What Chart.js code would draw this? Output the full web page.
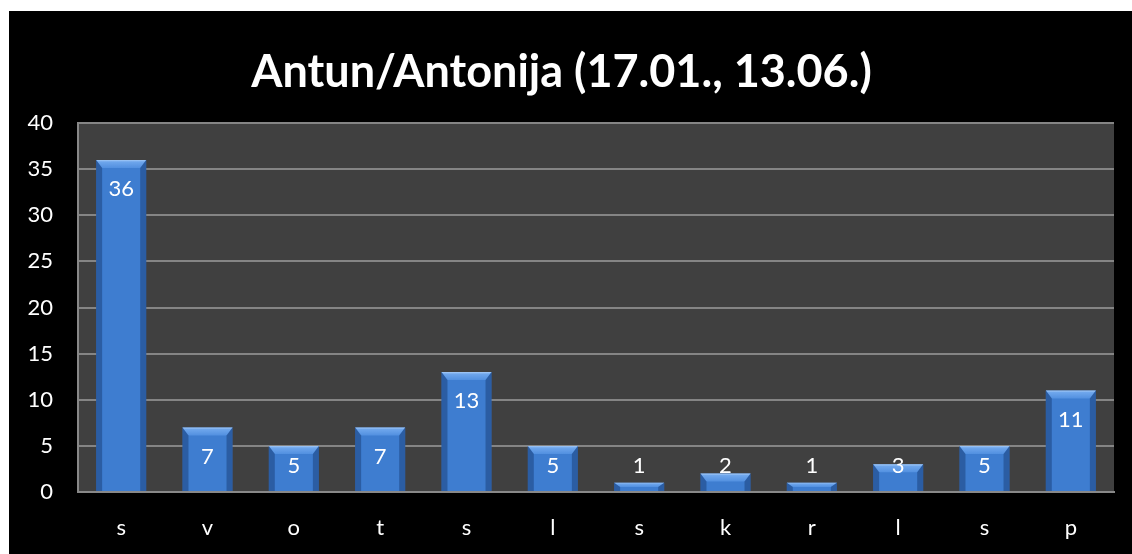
<!DOCTYPE html>
<html>
<head>
<meta charset="utf-8">
<script src="https://cdn.jsdelivr.net/npm/chart.js@4.4.1/dist/chart.umd.min.js"></script>
<style>
  html, body { margin: 0; padding: 0; background: #fff; }
  #wrap { position: absolute; left: 9px; top: 11px; width: 1123px; height: 543px; background: #000; }
</style>
</head>
<body>
<div id="wrap"><canvas id="myChart" width="1123" height="543"></canvas></div>
<script>
const chartTitle = 'Antun/Antonija (17.01., 13.06.)';
const labels = ['s', 'v', 'o', 't', 's', 'l', 's', 'k', 'r', 'l', 's', 'p'];
const counts = [36, 7, 5, 7, 13, 5, 1, 2, 1, 3, 5, 11];

// plot area background + bevel on the bars + value labels
const deco = {
    id: 'deco',
    beforeDraw(chart) {
        const a = chart.chartArea, c = chart.ctx;
        c.save();
        c.fillStyle = '#404040';
        c.fillRect(a.left, a.top, a.right - a.left, a.bottom - a.top);
        c.restore();
    },
    afterDatasetsDraw(chart) {
        const c = chart.ctx;
        const meta = chart.getDatasetMeta(0);
        c.save();
        meta.data.forEach((bar, i) => {
            const l = bar.x - bar.width / 2, r = bar.x + bar.width / 2;
            const t = bar.y, b = bar.base;
            const h = b - t;
            const bv = Math.min(8, h / 2);
            // top bevel
            const g = c.createLinearGradient(0, t, 0, t + bv);
            g.addColorStop(0, '#a6cbf7');
            g.addColorStop(0.25, '#6ea6ec');
            g.addColorStop(1, '#5290e0');
            c.fillStyle = g;
            c.beginPath();
            c.moveTo(l, t); c.lineTo(r, t); c.lineTo(r - 6, t + bv); c.lineTo(l + 6, t + bv); c.closePath();
            c.fill();
            // sides
            c.fillStyle = 'rgba(15,45,95,0.4)';
            c.beginPath();
            c.moveTo(l, t); c.lineTo(l + 6, t + bv); c.lineTo(l + 6, b); c.lineTo(l, b); c.closePath();
            c.fill();
            c.beginPath();
            c.moveTo(r, t); c.lineTo(r - 6, t + bv); c.lineTo(r - 6, b); c.lineTo(r, b); c.closePath();
            c.fill();
            // value label
            c.fillStyle = '#ffffff';
            c.font = '22px Lato';
            c.textAlign = 'center';
            c.textBaseline = 'middle';
            const y = Math.min(t + 29, b - 25);
            c.fillText(String(counts[i]), bar.x, y);
        });
        c.restore();
    }
};

const ctx = document.getElementById('myChart').getContext('2d');
const myChart = new Chart(ctx, {
    type: 'bar',
    data: {
        labels: labels,
        datasets: [{
            data: counts,
            backgroundColor: '#3e7dd0',
            borderWidth: 0,
            categoryPercentage: 1,
            barPercentage: 0.58
        }]
    },
    plugins: [deco],
    options: {
        responsive: false,
        animation: false,
        layout: { padding: { left: 0, right: 18, top: 0, bottom: 0 } },
        plugins: {
            legend: { display: false },
            tooltip: { enabled: false },
            title: {
                display: true,
                text: chartTitle,
                color: '#ffffff',
                font: { family: 'Lato', size: 45, weight: 'bold', lineHeight: 1.2 },
                padding: { top: 34, bottom: 24 }
            }
        },
        scales: {
            x: {
                grid: { display: false, drawTicks: false },
                border: { display: true, color: '#888888', width: 2 },
                ticks: { color: '#ffffff', font: { family: 'Lato', size: 22 }, padding: 23 },
                afterFit(s) { s.height = 62; }
            },
            y: {
                min: 0,
                max: 40,
                grid: { color: '#858585', lineWidth: 2, drawTicks: false },
                border: { display: true, color: '#888888', width: 2 },
                ticks: { stepSize: 5, color: '#ffffff', font: { family: 'Lato', size: 22 }, padding: 25 },
                afterFit(s) { s.width = 69; }
            }
        }
    }
});
</script>
</body>
</html>
